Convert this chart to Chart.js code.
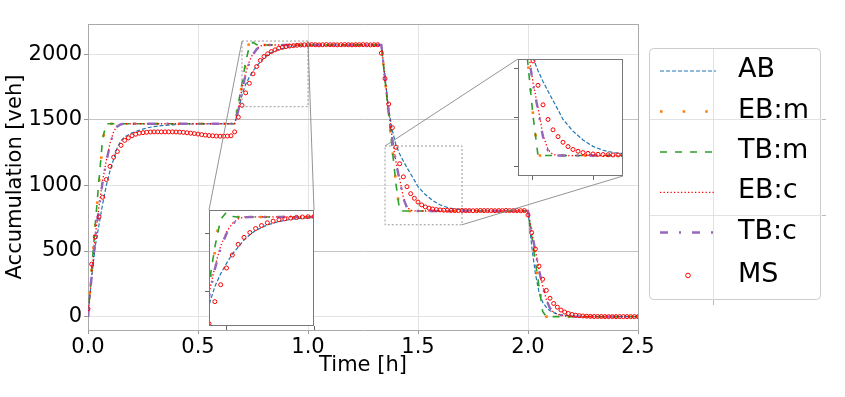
<!DOCTYPE html>
<html lang="en">
<head>
<meta charset="UTF-8">
<title>Accumulation</title>
<script src="https://cdn.jsdelivr.net/npm/chart.js"></script>
<style>
  html, body { margin: 0; padding: 0; background: #fff; }
  #wrap { position: relative; width: 845px; height: 397px; overflow: hidden; }
  #wrap canvas { position: absolute; }
</style>
</head>
<body>
<div id="wrap">
  <canvas id="main" width="845" height="397" style="left:0;top:0"></canvas>
  <canvas id="inset1" width="115" height="126" style="left:204px;top:205px"></canvas>
  <canvas id="inset2" width="115" height="127" style="left:513px;top:54px"></canvas>
</div>
<script>
// time stamps (minutes) of the model curves
const modelMinutes = [0,1,2,3,4,5,6,7,8,9,10,12,14,16,18,20,22,25,28,30,35,40,
  41,42,43,44,45,46,47,48,49,50,52,54,56,58,60,65,70,75,80,
  81,82,83,84,85,86,87,88,89,90,92,94,96,98,100,103,106,110,115,120,
  121,122,123,124,125,126,127,128,130,132,135,140,145,150];

const abValues = [0,300,540,700,860,1000,1110,1200,1290,1340,1370,1400,1420,1438,1448,1455,1460,1465,1468,1469,1470,1470,
  1570,1690,1770,1825,1870,1910,1940,1970,1993,2012,2036,2050,2060,2065,2068,2070,2070,2070,2070,
  1820,1580,1420,1305,1240,1185,1135,1087,1040,990,930,885,852,832,820,812,808,806,805,805,
  540,330,185,110,70,45,30,20,10,5,2,0,0,0];

const ebmValues = [0,360,700,1020,1330,1500,1470,1470,1470,1470,1470,1470,1470,1470,1470,1470,1470,1470,1470,1470,1470,1470,
  1620,1770,1920,2110,2075,2070,2070,2070,2070,2070,2070,2070,2070,2070,2070,2070,2070,2070,2070,
  1810,1545,1280,1020,805,805,805,805,805,805,805,805,805,805,805,805,805,805,805,805,
  620,430,240,50,0,0,0,0,0,0,0,0,0,0];

const tbmValues = [0,360,710,1040,1360,1470,1470,1470,1470,1470,1470,1470,1470,1470,1470,1470,1470,1470,1470,1470,1470,1470,
  1620,1780,1940,2060,2090,2072,2070,2070,2070,2070,2070,2070,2070,2070,2070,2070,2070,2070,2070,
  1800,1540,1270,1010,805,805,805,805,805,805,805,805,805,805,805,805,805,805,805,805,
  615,420,230,40,0,0,0,0,0,0,0,0,0,0];

const ebcValues = [0,320,620,840,1040,1190,1320,1410,1455,1468,1470,1470,1470,1470,1470,1470,1470,1470,1470,1470,1470,1470,
  1580,1740,1855,1945,2005,2042,2062,2070,2070,2070,2070,2070,2070,2070,2070,2070,2070,2070,2070,
  1820,1570,1350,1180,1050,910,835,810,806,805,805,805,805,805,805,805,805,805,805,805,
  650,505,360,235,130,65,33,17,5,0,0,0,0,0];

const tbcValues = [0,310,600,830,1030,1180,1310,1400,1450,1466,1470,1470,1470,1470,1470,1470,1470,1470,1470,1470,1470,1470,
  1570,1725,1845,1935,1998,2038,2060,2068,2070,2070,2070,2070,2070,2070,2070,2070,2070,2070,2070,
  1815,1565,1345,1170,1040,900,830,808,805,805,805,805,805,805,805,805,805,805,805,805,
  645,500,355,230,128,63,32,16,5,0,0,0,0,0];

// measurement, one sample per minute (0..150)
const msValues = [60,400,610,760,910,1045,1145,1215,1258,1305,1343,1362,1378,1390,1398,1402,1405,1407,1408,1408,
  1408,1408,1408,1408,1407,1406,1404,1401,1398,1395,1391,1387,1383,1380,1378,1376,1375,1375,1376,1378,
  1408,1520,1610,1705,1778,1850,1906,1952,1982,2003,2020,2033,2045,2052,2058,2062,2065,2068,2070,2071,
  2072,2073,2072,2071,2072,2073,2072,2072,2071,2072,2073,2072,2071,2072,2072,2073,2072,2071,2072,2072,
  2008,1814,1620,1440,1290,1165,1065,990,937,902,873,851,836,827,820,816,813,811,810,809,
  808,808,809,808,808,807,808,809,808,808,808,807,808,808,809,808,808,808,807,808,
  775,640,515,385,285,200,140,100,72,50,35,24,16,11,7,5,3,2,1,1,
  1,0,0,0,0,0,0,0,0,0,0];

const xTicks = [0, 0.5, 1.0, 1.5, 2.0, 2.5];
const yTicks = [0, 500, 1000, 1500, 2000];
const inset1Range = { x: [0.7, 1.0], y: [1600, 2100] };
const inset1Ticks = { x: [0.75, 1.0], y: [1750, 2000] };
const inset2Range = { x: [1.35, 1.70], y: [700, 1300] };
const inset2Ticks = { x: [1.4, 1.6], y: [750, 1000, 1250] };

const FONT = "'DejaVu Sans', 'Liberation Sans', sans-serif";

function points(mins, vals) {
  return mins.map((m, i) => ({ x: m / 60, y: vals[i] }));
}

const msMinutes = msValues.map((v, i) => i);

function makeDatasets() {
  return [
    { label: 'AB', data: points(modelMinutes, abValues), showLine: true, borderColor: '#1f77b4',
      borderWidth: 1.2, borderDash: [4, 2], pointRadius: 0, order: 6 },
    { label: 'EB:m', data: points(modelMinutes, ebmValues), showLine: true, borderColor: '#ff7f0e',
      borderWidth: 2.6, borderDash: [2.6, 20], pointRadius: 0, order: 5 },
    { label: 'TB:m', data: points(modelMinutes, tbmValues), showLine: true, borderColor: '#2ca02c',
      borderWidth: 1.6, borderDash: [7, 8], pointRadius: 0, order: 4 },
    { label: 'EB:c', data: points(modelMinutes, ebcValues), showLine: true, borderColor: '#ff0000',
      borderWidth: 1.3, borderDash: [1.3, 2.2], pointRadius: 0, order: 3 },
    { label: 'TB:c', data: points(modelMinutes, tbcValues), showLine: true, borderColor: '#9467bd',
      borderWidth: 2.4, borderDash: [8, 11, 2, 11], pointRadius: 0, order: 2 },
    { label: 'MS', data: points(msMinutes, msValues), showLine: false, borderColor: '#ff0000',
      pointRadius: 2, pointBorderWidth: 1, pointBorderColor: '#ff0000',
      pointBackgroundColor: 'rgba(0,0,0,0)', order: 1 }
  ];
}

// inset: white area + frame
const insetFrame = {
  id: 'insetFrame',
  beforeDatasetsDraw(chart) {
    const a = chart.chartArea, ctx = chart.ctx;
    ctx.save();
    ctx.fillStyle = '#fff';
    ctx.fillRect(a.left, a.top, a.right - a.left, a.bottom - a.top);
    ctx.restore();
  },
  afterDraw(chart) {
    const a = chart.chartArea, ctx = chart.ctx;
    ctx.save();
    ctx.strokeStyle = '#777';
    ctx.lineWidth = 1;
    ctx.strokeRect(Math.round(a.left) + 0.5, Math.round(a.top) + 0.5,
      Math.round(a.right - a.left) - 1, Math.round(a.bottom - a.top) - 1);
    ctx.restore();
  }
};

function insetChart(id, range, ticks) {
  return new Chart(document.getElementById(id), {
    type: 'scatter',
    data: { datasets: makeDatasets() },
    options: {
      responsive: false, animation: false, events: [],
      layout: { padding: { left: 0, right: 1, top: 1, bottom: 0 } },
      plugins: { legend: { display: false }, tooltip: { enabled: false } },
      scales: {
        x: {
          type: 'linear', min: range.x[0], max: range.x[1],
          afterBuildTicks: s => { s.ticks = ticks.x.map(v => ({ value: v })); },
          afterFit: s => { s.height = 4; },
          ticks: { display: false },
          grid: { drawOnChartArea: false, tickLength: 4, tickColor: '#666' },
          border: { display: false }
        },
        y: {
          type: 'linear', min: range.y[0], max: range.y[1],
          afterBuildTicks: s => { s.ticks = ticks.y.map(v => ({ value: v })); },
          afterFit: s => { s.width = 4; },
          ticks: { display: false },
          grid: { drawOnChartArea: false, tickLength: 4, tickColor: '#666' },
          border: { display: false }
        }
      }
    },
    plugins: [insetFrame]
  });
}

const inset1 = insetChart('inset1', inset1Range, inset1Ticks);
const inset2 = insetChart('inset2', inset2Range, inset2Ticks);

function insetCorners(chart) {
  const c = chart.canvas, a = chart.chartArea;
  return { left: c.offsetLeft + a.left, right: c.offsetLeft + a.right,
           top: c.offsetTop + a.top, bottom: c.offsetTop + a.bottom };
}

const decorations = {
  id: 'decorations',
  afterDraw(chart) {
    const ctx = chart.ctx, a = chart.chartArea;
    const xs = chart.scales.x, ys = chart.scales.y;
    ctx.save();
    // top and right spines
    ctx.strokeStyle = '#aaa';
    ctx.lineWidth = 1;
    ctx.beginPath();
    ctx.moveTo(a.left, a.top + 0.5); ctx.lineTo(a.right + 0.5, a.top + 0.5);
    ctx.lineTo(a.right + 0.5, a.bottom);
    ctx.stroke();

    // zoom boxes and connectors
    const boxes = [
      { r: inset1Range, ins: insetCorners(inset1), link: [['left', 'top', 'left', 'top'], ['right', 'top', 'right', 'top']] },
      { r: inset2Range, ins: insetCorners(inset2), link: [['left', 'top', 'left', 'top'], ['right', 'bottom', 'right', 'bottom']] }
    ];
    boxes.forEach(b => {
      const x0 = xs.getPixelForValue(b.r.x[0]), x1 = xs.getPixelForValue(b.r.x[1]);
      const y0 = ys.getPixelForValue(b.r.y[1]), y1 = ys.getPixelForValue(b.r.y[0]);
      ctx.strokeStyle = '#999';
      ctx.lineWidth = 1;
      ctx.setLineDash([2, 2]);
      ctx.strokeRect(x0, y0, x1 - x0, y1 - y0);
      ctx.setLineDash([]);
      const bx = { left: x0, right: x1, top: y0, bottom: y1 };
      ctx.strokeStyle = '#888';
      ctx.lineWidth = 0.9;
      b.link.forEach(l => {
        ctx.beginPath();
        ctx.moveTo(bx[l[0]], bx[l[1]]);
        ctx.lineTo(b.ins[l[2]], b.ins[l[3]]);
        ctx.stroke();
      });
    });

    // legend
    const lx = 649.5, ly = 48.5, lw = 171, lh = 251;
    ctx.fillStyle = 'rgba(255,255,255,0.85)';
    ctx.strokeStyle = '#ccc';
    ctx.lineWidth = 1;
    ctx.beginPath();
    ctx.roundRect(lx, ly, lw, lh, 4);
    ctx.fill();
    ctx.stroke();
    // faint lines behind the legend
    ctx.strokeStyle = '#e2e2e2';
    ctx.beginPath();
    ctx.moveTo(713.5, 49); ctx.lineTo(713.5, 305);
    ctx.moveTo(650, 119.5); ctx.lineTo(822, 119.5);
    ctx.moveTo(650, 215.5); ctx.lineTo(822, 215.5);
    ctx.stroke();
    ctx.strokeStyle = '#bbb';
    ctx.beginPath();
    ctx.moveTo(822, 119.5); ctx.lineTo(826, 119.5);
    ctx.moveTo(822, 215.5); ctx.lineTo(826, 215.5);
    ctx.moveTo(713.5, 300); ctx.lineTo(713.5, 305);
    ctx.stroke();

    const rowY = [71, 111.5, 152, 192.3, 232.5, 275.5];
    chart.data.datasets.forEach((d, i) => {
      const y = rowY[i];
      if (d.showLine) {
        ctx.strokeStyle = d.borderColor;
        ctx.lineWidth = d.borderWidth;
        ctx.setLineDash(d.borderDash);
        ctx.beginPath();
        ctx.moveTo(660, y); ctx.lineTo(716, y);
        ctx.stroke();
        ctx.setLineDash([]);
      } else {
        ctx.strokeStyle = d.pointBorderColor;
        ctx.lineWidth = 1;
        ctx.beginPath();
        ctx.arc(688, y, 2.3, 0, Math.PI * 2);
        ctx.stroke();
      }
      ctx.fillStyle = '#000';
      ctx.font = '27px ' + FONT;
      ctx.textBaseline = 'middle';
      ctx.textAlign = 'left';
      ctx.fillText(d.label, 738, y - 1);
    });

    // the figure is cut just below the x label
    ctx.fillStyle = '#fff';
    ctx.fillRect(0, 374, 845, 23);
    ctx.restore();
  }
};

const mainChart = new Chart(document.getElementById('main'), {
  type: 'scatter',
  data: { datasets: makeDatasets() },
  options: {
    responsive: false, animation: false, events: [],
    layout: { padding: { left: 0, right: 207, top: 24, bottom: 0 } },
    plugins: { legend: { display: false }, tooltip: { enabled: false } },
    scales: {
      x: {
        type: 'linear', min: 0, max: 2.5,
        afterBuildTicks: s => { s.ticks = xTicks.map(v => ({ value: v })); },
        afterFit: s => { s.height = 67; },
        ticks: { callback: v => v.toFixed(1), font: { family: FONT, size: 21 }, color: '#000',
                 padding: 1, maxRotation: 0, autoSkip: false },
        grid: { color: '#e3e3e3', tickColor: '#999', tickLength: 4 },
        border: { color: '#aaa', width: 1 },
        title: { display: true, text: 'Time [h]', font: { family: FONT, size: 21 }, color: '#000',
                 padding: { top: 0, bottom: 19 } }
      },
      y: {
        type: 'linear', min: -102, max: 2230,
        afterBuildTicks: s => { s.ticks = yTicks.map(v => ({ value: v })); },
        afterFit: s => { s.width = 88; },
        ticks: { callback: v => String(v), font: { family: FONT, size: 21 }, color: '#000', padding: 2 },
        grid: { color: ctx => (ctx.tick && (ctx.tick.value === 1500 || ctx.tick.value === 500)) ? '#c4c4c4' : '#e3e3e3',
                tickColor: '#999', tickLength: 4 },
        border: { color: '#aaa', width: 1 },
        title: { display: true, text: 'Accumulation [veh]', font: { family: FONT, size: 21 }, color: '#000',
                 padding: { top: 3, bottom: 0 } }
      }
    }
  },
  plugins: [decorations]
});
</script>
</body>
</html>
